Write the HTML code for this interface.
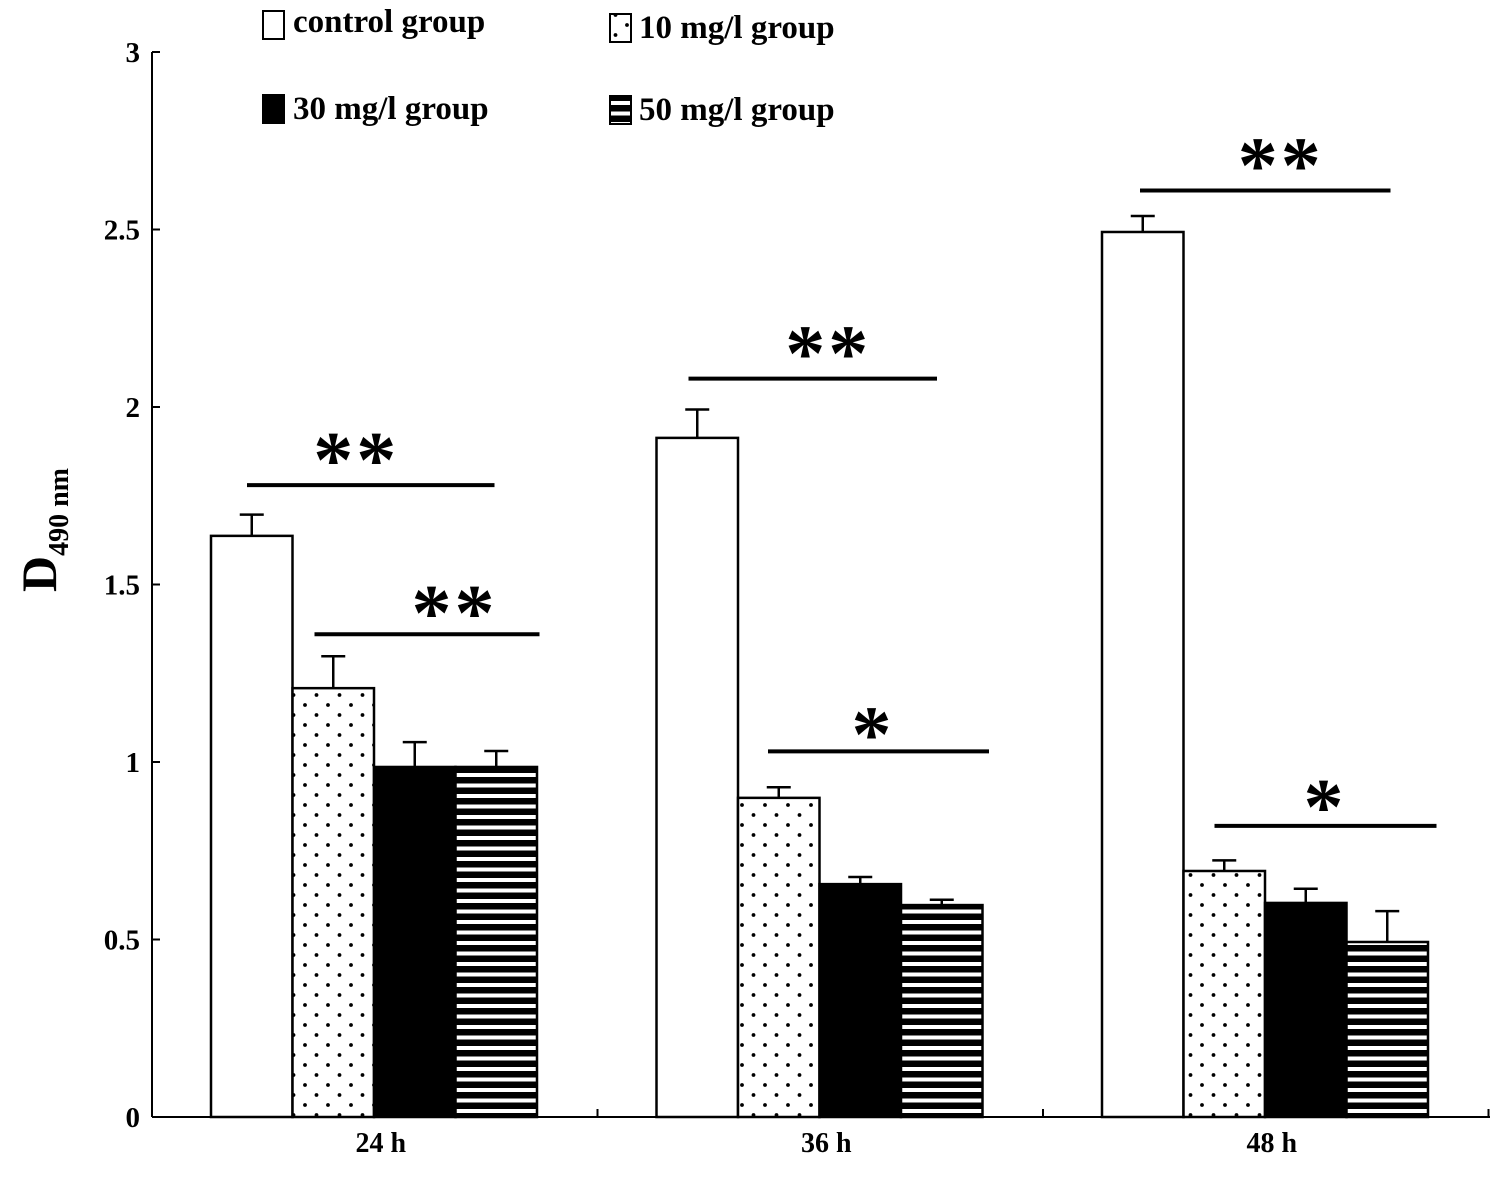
<!DOCTYPE html>
<html><head><meta charset="utf-8"><style>
body{margin:0;background:#fff}
svg text{font-family:"Liberation Serif",serif;font-weight:bold}
</style></head><body>
<svg width="1507" height="1181" viewBox="0 0 1507 1181">
<defs>
<pattern id="dots" width="23" height="20" patternUnits="userSpaceOnUse">
<circle cx="6" cy="5" r="1.9" fill="#000"/><circle cx="17.5" cy="15" r="1.9" fill="#000"/>
</pattern>
<pattern id="stripes" width="10" height="10.5" patternUnits="userSpaceOnUse">
<rect x="0" y="0" width="10" height="6.5" fill="#000"/>
</pattern>
</defs>
<g id="chart"></g>
</svg>
<script>
const categories=["24 h","36 h","48 h"];
const seriesNames=["control group","10 mg/l group","30 mg/l group","50 mg/l group"];
const control=[1.637,1.913,2.493];
const mg10=[1.208,0.899,0.693];
const mg30=[0.986,0.656,0.603];
const mg50=[0.986,0.597,0.493];
const errControl=[0.06,0.08,0.045];
const err10=[0.09,0.03,0.03];
const err30=[0.07,0.02,0.04];
const err50=[0.045,0.015,0.087];
const yTicks=[0,0.5,1,1.5,2,2.5,3];
const yTickLabels=["0","0.5","1","1.5","2","2.5","3"];
const sigLabels=[["**","**"],["**","*"],["**","*"]];
const sigLevels=[[1.78,1.36],[2.08,1.03],[2.61,0.82]];

const NS="http://www.w3.org/2000/svg";
const g=document.getElementById('chart');
const y0=1117,ppu=355,x0=152,gw=445.5,bw=81.5,goff=59;
const Y=v=>y0-v*ppu;
const X=(gi,si)=>x0+gi*gw+goff+si*bw;
function el(t,a,p){const e=document.createElementNS(NS,t);for(const k in a)e.setAttribute(k,a[k]);(p||g).appendChild(e);return e;}
const starDx=[[-16,26],[14,-7],[14,-2]];
const starDy=[[2,6],[2,10],[2,8]];
const spanDefs=[[[36,39],[22,84]],[[32,36],[30,88]],[[38,44],[31,90]]];

let a=el('line',{x1:x0,y1:52,x2:x0,y2:y0,stroke:'#000','stroke-width':2});


a=el('line',{x1:x0,y1:y0,x2:1490,y2:y0,stroke:'#000','stroke-width':2});


yTicks.forEach((v,i)=>{
  el('line',{x1:x0,y1:Y(v),x2:x0+8,y2:Y(v),stroke:'#000','stroke-width':2});
  const t=el('text',{x:x0-12,y:Y(v)+10,'text-anchor':'end','font-size':29});
  t.textContent=yTickLabels[i];
  
  
});
for(let i=0;i<=3;i++){el('line',{x1:x0+i*gw,y1:y0,x2:x0+i*gw,y2:y0-8,stroke:'#000','stroke-width':2});}
categories.forEach((c,i)=>{
  const t=el('text',{x:x0+i*gw+gw/2+6,y:1152,'text-anchor':'middle','font-size':28});
  t.textContent=c;
  
  
});
const yt=el('text',{transform:'translate(56,592) rotate(-90)','font-size':50});
yt.innerHTML='D<tspan font-size="28" dy="12">490 nm</tspan>';



const series=[control,mg10,mg30,mg50],errs=[errControl,err10,err30,err50];
const fills=['#fff','url(#dots)','#000','url(#stripes)'];
categories.forEach((c,gi)=>{
  series.forEach((s,si)=>{
    const v=s[gi],x=X(gi,si);
    if(si==1||si==3){el('rect',{x:x,y:Y(v),width:bw,height:v*ppu,fill:'#fff'});}
    const r=el('rect',{x:x,y:Y(v),width:bw,height:v*ppu,fill:fills[si],stroke:'#000','stroke-width':2.5});
    
    
    const e=errs[si][gi],cx=x+bw/2;
    el('line',{x1:cx,y1:Y(v),x2:cx,y2:Y(v+e),stroke:'#000','stroke-width':2.5});
    el('line',{x1:cx-12,y1:Y(v+e),x2:cx+12,y2:Y(v+e),stroke:'#000','stroke-width':2.5});
  });
  const sd=spanDefs[gi];
  const spans=[[X(gi,0)+sd[0][0],X(gi,3)+sd[0][1]],[X(gi,1)+sd[1][0],X(gi,3)+sd[1][1]]];
  [0,1].forEach(k=>{
    const ly=Y(sigLevels[gi][k]);
    const l=el('line',{x1:spans[k][0],y1:ly,x2:spans[k][1],y2:ly,stroke:'#000','stroke-width':4});
    
    
    const t=el('text',{x:(spans[k][0]+spans[k][1])/2+starDx[gi][k]+1.5,y:ly+starDy[gi][k],'text-anchor':'middle','font-size':80,'font-family':'Liberation Sans','letter-spacing':'3'});
    t.textContent=sigLabels[gi][k];
    
    
  });
});
const leg=[[263,11,293,32],[610,14,639,38],[263,95,293,119],[610,96,639,120]];
seriesNames.forEach((n,i)=>{
  const [bx,by,tx,ty]=leg[i];
  if(i==1||i==3)el('rect',{x:bx,y:by,width:21,height:28,fill:'#fff'});
  const r=el('rect',{x:bx,y:by,width:21,height:28,fill:fills[i],stroke:'#000','stroke-width':2});
  
  
  const t=el('text',{x:tx,y:ty,'font-size':33});
  t.textContent=n;
  
  
});
</script>
</body></html>
